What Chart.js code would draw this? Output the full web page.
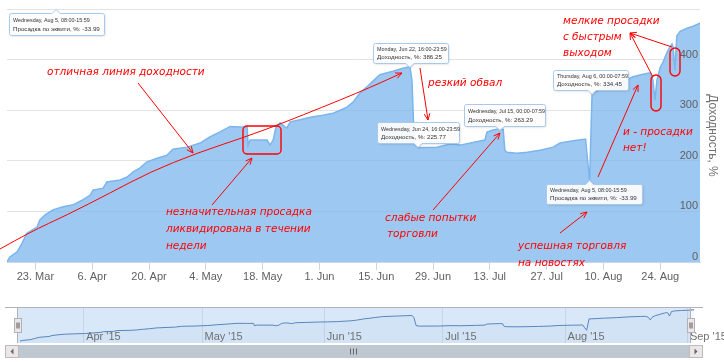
<!DOCTYPE html>
<html><head><meta charset="utf-8">
<script src="https://cdn.jsdelivr.net/npm/chart.js@4"></script>
<style>
html,body{margin:0;padding:0;background:#fff;width:724px;height:362px;overflow:hidden}
#wrap{position:relative;width:724px;height:362px;background:#fff}
#main{position:absolute;left:0;top:0}
#nav{position:absolute;left:0;top:300px}
</style></head><body>
<div id="wrap"><canvas id="main" width="724" height="290"></canvas><canvas id="nav" width="724" height="62"></canvas></div>
<script>
// ---- data (day offsets from 16 Mar 2015, return %) ----
const days = [0,0.7,2.5,3.7,4.9,7.4,8.1,9.4,11.3,13.8,16.3,18.5,20.5,21.2,23.7,24.6,27.9,29.6,31.1,32.8,34.5,37.0,39.4,40.9,44.4,47.6,50.0,52.5,55.0,57.4,58.2,59.2,59.4,59.9,64.1,64.8,65.6,66.3,67.3,68.5,69.0,69.8,72.2,75.4,77.9,80.4,82.1,83.8,85.3,87.0,88.7,90.0,91.9,95.1,97.6,99.3,99.8,100.4,101.3,106.0,109.2,111.7,115.4,117.8,118.3,119.8,121.5,122.3,122.7,123.2,125.7,128.2,131.4,134.6,136.3,140.0,142.6,143.1,143.6,144.2,146.2,147.9,151.1,154.3,157.3,158.5,159.2,159.7,160.2,161.0,161.7,162.7,163.4,163.9,164.2,164.6,165.1,165.9,167.6,169.1,170.8];
const values = [0,10,20,37,57,69,83,93,103,109,113,122,132,142,146,158,162,168,178,186,198,205,211,223,227,235,247,257,268,267,267,267,231,241,241,231,241,267,275,267,265,277,281,287,290,294,300,306,316,334,346,356,370,377,383,386.25,360,232,225.77,227,233,231,237,241,257,261,263.29,262,221,217,215,217,221,227,235,240,243,200,162,334.45,340,346,354,366,372,374,360,320,360,385,395,415,425,431,423,379,447,456,462,466,472];
const tickDays = [7,21,35,49,63,77,91,105,119,133,147,161];
const tickLabels = ['23. Mar','6. Apr','20. Apr','4. May','18. May','1. Jun','15. Jun','29. Jun','13. Jul','27. Jul','10. Aug','24. Aug'];
const yTicks = [0,100,200,300,400,500];
const yLabelTicks = [0,100,200,300,400];
const navDays = [16,46,77,107,138,169];
const navLabels = ["Apr '15","May '15","Jun '15","Jul '15","Aug '15","Sep '15"];

// tooltips anchored on data points
const tips = [
  {day:99.3, value:386.25, l1:'Monday, Jun 22, 16:00-23:59', l2:'Доходность, %: 386.25'},
  {day:101.3, value:225.77, l1:'Wednesday, Jun 24, 16:00-23:59', l2:'Доходность, %: 225.77'},
  {day:121.5, value:263.29, l1:'Wednesday, Jul 15, 00:00-07:59', l2:'Доходность, %: 263.29'},
  {day:144.2, value:334.45, l1:'Thursday, Aug 6, 00:00-07:59', l2:'Доходность, %: 334.45'},
  {day:143.6, value:162, l1:'Wednesday, Aug 5, 08:00-15:59', l2:'Просадка по эквити, %: -33.99'}
];
// tooltip box layout relative to anchor
const tipLayout = [
  {dx:-37, dy:-24, w:75, h:20, side:'bottom'},
  {dx:-41, dy:-26, w:82, h:21, side:'bottom'},
  {dx:-36, dy:-25, w:81, h:22, side:'bottom'},
  {dx:-39, dy:-23, w:75, h:20, side:'bottom'},
  {dx:-44, dy:4, w:96, h:20, side:'top'}
];
const ghostTip = {x:9, y:13, w:95, h:22, px:56, l1:'Wednesday, Aug 5, 08:00-15:59', l2:'Просадка по эквити, %: -33.99'};

// annotation overlay (red markup)
const RED = '#ff0000';
const redTexts = [
  ['отличная линия доходности',47,72],
  ['незначительная просадка',166,212],['ликвидирована в течении',166,229],['недели',166,246],
  ['резкий обвал',428,83],
  ['слабые попытки',385,218],['торговли',387,234],
  ['успешная торговля',518,246],['на новостях',518,263],
  ['и - просадки',623,132],['нет!',623,148],
  ['мелкие просадки',563,21],['с быстрым',563,37],['выходом',563,53]
];
const redArrows = [[138,83,193,153],[212,205,252,158],[420,68,428,120],[433,210,500,133],[560,233,587,212],[598,177,638,85],[653,77,630,33],[672,47,630,33]];
const redBoxes = [[243,126,38,28,4],[651,75,10,36,5],[670,48,10,28,5]];
const trendPts = [[0,249],[30,232],[67,215],[110,193],[150,172],[197,153],[245,137],[283,123],[360,92],[402,73]];

function arrowHead(ctx,x1,y1,x2,y2){
  const a=Math.atan2(y2-y1,x2-x1), L=7, s=0.42;
  ctx.beginPath();
  ctx.moveTo(x2-L*Math.cos(a-s),y2-L*Math.sin(a-s));
  ctx.lineTo(x2,y2);
  ctx.lineTo(x2-L*Math.cos(a+s),y2-L*Math.sin(a+s));
  ctx.stroke();
}
function rrect(ctx,x,y,w,h,r){
  ctx.beginPath();
  ctx.moveTo(x+r,y);ctx.lineTo(x+w-r,y);ctx.arcTo(x+w,y,x+w,y+r,r);
  ctx.lineTo(x+w,y+h-r);ctx.arcTo(x+w,y+h,x+w-r,y+h,r);
  ctx.lineTo(x+r,y+h);ctx.arcTo(x,y+h,x,y+h-r,r);
  ctx.lineTo(x,y+r);ctx.arcTo(x,y,x+r,y,r);ctx.closePath();
}
function tipPath(ctx,x,y,w,h,r,px,side){
  ctx.beginPath();
  ctx.moveTo(x+r,y);
  if(side==='top'){ctx.lineTo(px-4,y);ctx.lineTo(px,y-4);ctx.lineTo(px+4,y);}
  ctx.lineTo(x+w-r,y);ctx.arcTo(x+w,y,x+w,y+r,r);
  ctx.lineTo(x+w,y+h-r);ctx.arcTo(x+w,y+h,x+w-r,y+h,r);
  if(side==='bottom'){ctx.lineTo(px+4,y+h);ctx.lineTo(px,y+h+4);ctx.lineTo(px-4,y+h);}
  ctx.lineTo(x+r,y+h);ctx.arcTo(x,y+h,x,y+h-r,r);
  ctx.lineTo(x,y+r);ctx.arcTo(x,y,x+r,y,r);
  ctx.closePath();
}
function drawTip(ctx,x,y,w,h,px,side,l1,l2){
  ctx.save();
  x=Math.round(x)+0.5;y=Math.round(y)+0.5;
  ctx.shadowColor='rgba(0,0,0,0.15)';ctx.shadowOffsetX=1;ctx.shadowOffsetY=1;ctx.shadowBlur=2;
  tipPath(ctx,x,y,w,h,2,px,side);
  ctx.fillStyle='rgba(255,255,255,0.93)';ctx.fill();
  ctx.shadowColor='transparent';
  ctx.strokeStyle='#a9c9ea';ctx.lineWidth=1;ctx.stroke();
  ctx.fillStyle='#333';ctx.textBaseline='middle';ctx.textAlign='left';
  ctx.font='5.4px "Liberation Sans"';ctx.fillText(l1,x+3.5,y+h*0.32);
  ctx.font='6.2px "Liberation Sans"';ctx.fillText(l2,x+3.5,y+h*0.7);
  ctx.restore();
}

const overlayPlugin = {
  id:'overlay',
  afterDatasetsDraw(chart){
    const ctx=chart.ctx, ys=chart.scales.y, r=chart.chartArea.right;
    ctx.save();
    ctx.font='11px "Liberation Sans"';ctx.fillStyle='#606060';
    ctx.textAlign='right';ctx.textBaseline='middle';
    yLabelTicks.forEach(v=>ctx.fillText(String(v),r-2,ys.getPixelForValue(v)-5));
    ctx.restore();
  },
  afterDraw(chart){
    const ctx=chart.ctx, xs=chart.scales.x, ys=chart.scales.y;
    ctx.save();
    ctx.strokeStyle=RED;ctx.lineWidth=1;
    // trend curve
    ctx.beginPath();ctx.moveTo(trendPts[0][0],trendPts[0][1]);
    for(let i=1;i<trendPts.length-1;i++){
      const p=trendPts[i],q=trendPts[i+1];
      ctx.quadraticCurveTo(p[0],p[1],(p[0]+q[0])/2,(p[1]+q[1])/2);
    }
    const last=trendPts[trendPts.length-1],prev=trendPts[trendPts.length-2];
    ctx.lineTo(last[0],last[1]);ctx.stroke();
    arrowHead(ctx,prev[0],prev[1],last[0],last[1]);
    redArrows.forEach(a=>{
      ctx.beginPath();ctx.moveTo(a[0],a[1]);ctx.lineTo(a[2],a[3]);ctx.stroke();
      arrowHead(ctx,a[0],a[1],a[2],a[3]);
    });
    ctx.strokeStyle='rgb(255,0,0)';ctx.lineWidth=1.4;
    redBoxes.forEach(b=>{rrect(ctx,b[0],b[1],b[2],b[3],b[4]);ctx.strokeStyle='rgb(255,0,0)';ctx.stroke();});
    ctx.fillStyle=RED;ctx.font='italic 10.5px "DejaVu Sans"';
    ctx.textAlign='left';ctx.textBaseline='middle';
    redTexts.forEach(t=>ctx.fillText(t[0],t[1],t[2]));
    ctx.restore();
    // tooltips
    drawTip(ctx,ghostTip.x,ghostTip.y,ghostTip.w,ghostTip.h,ghostTip.px,'top',ghostTip.l1,ghostTip.l2);
    tips.forEach((t,i)=>{
      const L=tipLayout[i];
      const ax=xs.getPixelForValue(t.day), ay=ys.getPixelForValue(t.value);
      drawTip(ctx,ax+L.dx,ay+L.dy,L.w,L.h,ax,L.side,t.l1,t.l2);
    });
  }
};

const points = days.map((d,i)=>({x:d,y:values[i]}));

new Chart(document.getElementById('main'),{
  type:'line',
  data:{datasets:[{data:points,fill:'origin',backgroundColor:'rgba(124,181,236,0.75)',borderColor:'#7cb5ec',borderWidth:1.5,pointRadius:0,pointHoverRadius:0,tension:0}]},
  options:{
    responsive:false,animation:false,events:[],devicePixelRatio:1,
    layout:{padding:{left:7,top:9,right:0,bottom:0}},
    plugins:{legend:{display:false},tooltip:{enabled:false}},
    scales:{
      x:{type:'linear',min:0,max:170.8,
        afterBuildTicks:s=>{s.ticks=tickDays.map(v=>({value:v}));},
        afterFit:s=>{s.height=28;},
        grid:{drawOnChartArea:false,drawTicks:true,tickLength:8,color:'#ccd6eb'},
        border:{display:true,color:'#ccd6eb'},
        ticks:{autoSkip:false,maxRotation:0,minRotation:0,padding:0,color:'#606060',font:{family:'Liberation Sans',size:11},callback:(v,i)=>tickLabels[i]}
      },
      y:{position:'right',min:0,max:500,
        afterBuildTicks:s=>{s.ticks=yTicks.map(v=>({value:v}));},
        afterFit:s=>{s.width=24;},
        grid:{color:'#e3e3e3',drawTicks:false},border:{display:false},
        ticks:{display:false},
        title:{display:true,text:'Доходность, %',color:'#707070',font:{family:'Liberation Sans',size:12},padding:{top:4,bottom:0}}
      }
    }
  },
  plugins:[overlayPlugin]
});

// ---- navigator ----
const navPlugin = {
  id:'navDeco',
  beforeDatasetsDraw(chart){
    const ctx=chart.ctx, xs=chart.scales.x, a=chart.chartArea;
    ctx.save();ctx.strokeStyle='#e6e6e6';ctx.lineWidth=1;
    navDays.forEach(d=>{const x=Math.round(xs.getPixelForValue(d))+0.5;ctx.beginPath();ctx.moveTo(x,a.top);ctx.lineTo(x,a.bottom);ctx.stroke();});
    ctx.restore();
  },
  afterDatasetsDraw(chart){
    const ctx=chart.ctx, xs=chart.scales.x, a=chart.chartArea;
    ctx.save();
    const mL=17.5, mR=690.5;
    ctx.fillStyle='rgba(128,179,236,0.3)';
    ctx.fillRect(mL,a.top,mR-mL,a.bottom-a.top);
    ctx.strokeStyle='#b2b1b6';ctx.lineWidth=1;
    ctx.beginPath();ctx.moveTo(5,a.top-0.5);ctx.lineTo(703,a.top-0.5);ctx.stroke();
    ctx.beginPath();ctx.moveTo(mL,a.top);ctx.lineTo(mL,a.bottom);ctx.moveTo(mR,a.top);ctx.lineTo(mR,a.bottom);ctx.stroke();
    // labels
    ctx.font='11px "Liberation Sans"';ctx.fillStyle='#707070';ctx.textAlign='left';ctx.textBaseline='middle';
    navDays.forEach((d,i)=>ctx.fillText(navLabels[i],xs.getPixelForValue(d)+3,37));
    // handles
    [mL,mR].forEach(cx=>{
      const hx=Math.round(cx-4)+0.5, hy=18.5;
      ctx.fillStyle='#ebe7e8';ctx.fillRect(hx,hy,7,14);
      ctx.strokeStyle='#b2b1b6';ctx.strokeRect(hx,hy,7,14);
      ctx.strokeStyle='#555';ctx.beginPath();
      ctx.moveTo(hx+2.5,hy+4);ctx.lineTo(hx+2.5,hy+10);ctx.moveTo(hx+4.5,hy+4);ctx.lineTo(hx+4.5,hy+10);ctx.stroke();
    });
    // scrollbar
    const sy=45.5, sh=12;
    ctx.fillStyle='#eeeeee';ctx.fillRect(5,sy,698,sh);
    ctx.fillStyle='#bfc8d1';ctx.fillRect(18.5,sy,671,sh);
    ctx.strokeStyle='#bfc8d1';ctx.strokeRect(18.5,sy,671,sh);
    ctx.strokeStyle='#666';ctx.beginPath();
    [350.5,353.5,356.5].forEach(x=>{ctx.moveTo(x,sy+3);ctx.lineTo(x,sy+9);});ctx.stroke();
    [[5.5,'l'],[689.5,'r']].forEach(([bx,dir])=>{
      ctx.fillStyle='#ebe7e8';ctx.fillRect(bx,sy,13,sh);
      ctx.strokeStyle='#bbbbbb';ctx.strokeRect(bx,sy,13,sh);
      ctx.fillStyle='#666';ctx.beginPath();
      const cx=bx+6.5, cy=sy+6;
      if(dir==='l'){ctx.moveTo(cx+1.5,cy-3);ctx.lineTo(cx-1.5,cy);ctx.lineTo(cx+1.5,cy+3);}
      else{ctx.moveTo(cx-1.5,cy-3);ctx.lineTo(cx+1.5,cy);ctx.lineTo(cx-1.5,cy+3);}
      ctx.closePath();ctx.fill();
    });
    ctx.restore();
  }
};

new Chart(document.getElementById('nav'),{
  type:'line',
  data:{datasets:[{data:points,fill:'start',backgroundColor:'rgba(69,114,167,0.05)',borderColor:'#4572A7',borderWidth:1,pointRadius:0,tension:0}]},
  options:{
    responsive:false,animation:false,events:[],devicePixelRatio:1,
    layout:{padding:{left:20,right:30,top:8,bottom:19}},
    plugins:{legend:{display:false},tooltip:{enabled:false}},
    scales:{
      x:{type:'linear',display:false,min:0,max:170.8},
      y:{display:false,min:-30,max:500}
    }
  },
  plugins:[navPlugin]
});
</script>
</body></html>
